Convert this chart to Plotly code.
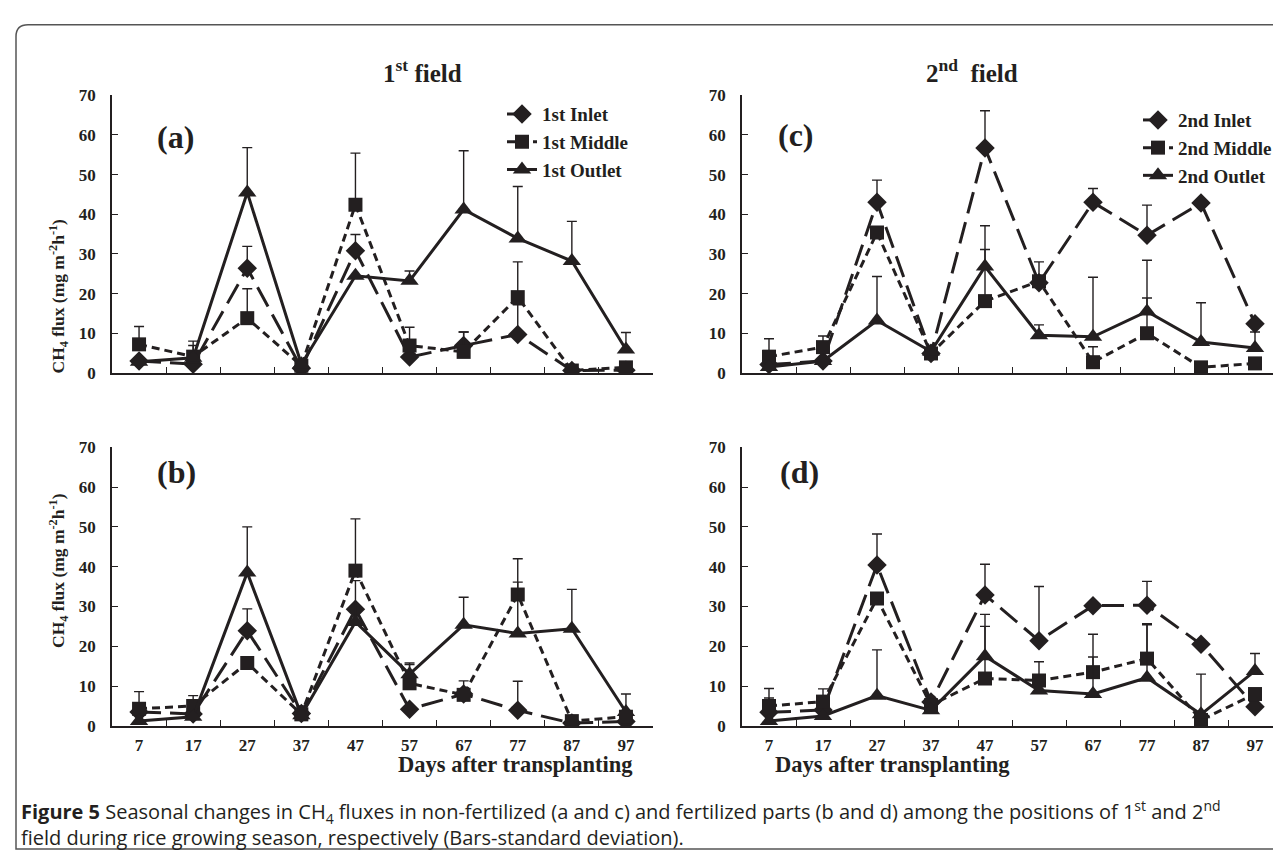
import plotly.graph_objects as go

W, H = 1281, 855

days = ["7", "17", "27", "37", "47", "57", "67", "77", "87", "97"]

# Panel (a): 1st field, non-fertilized  (values and top of SD bars)
a_inlet = [3.0, 2.2, 26.4, 1.2, 30.8, 4.0, 6.9, 9.7, 0.6, 0.7]
a_inlet_cap = [None, 6.9, 31.9, None, 34.9, None, 10.3, 17.2, None, None]
a_middle = [7.2, 4.1, 13.8, 1.8, 42.4, 6.9, 5.3, 19.1, 0.6, 1.4]
a_middle_cap = [11.7, 8.0, 21.2, None, 55.4, 11.5, 10.3, 28.0, None, None]
a_outlet = [2.8, 3.8, 45.5, 2.2, 24.5, 23.2, 41.2, 33.9, 28.2, 5.9]
a_outlet_cap = [None, None, 56.8, None, None, 25.7, 56.0, 47.0, 38.2, 10.2]

# Panel (b): 1st field, fertilized
b_inlet = [3.5, 3.0, 23.9, 3.1, 29.3, 4.2, 8.0, 3.9, 0.7, 1.1]
b_inlet_cap = [None, None, 29.4, None, None, None, None, 11.2, None, None]
b_middle = [4.3, 5.0, 15.8, 2.9, 39.0, 10.7, 7.8, 33.0, 1.2, 2.3]
b_middle_cap = [8.6, 7.6, None, 5.0, 52.0, 15.8, 11.3, 42.0, None, None]
b_outlet = [1.2, 2.3, 38.5, 2.7, 26.1, 13.0, 25.4, 23.2, 24.4, 3.5]
b_outlet_cap = [None, None, 50.0, None, 36.5, 15.4, 32.3, 36.1, 34.3, 8.0]

# Panel (c): 2nd field, non-fertilized
c_inlet = [2.1, 3.0, 43.0, 4.9, 56.7, 22.7, 43.0, 34.7, 42.8, 12.4]
c_inlet_cap = [None, None, 48.6, None, 66.1, None, 46.5, 42.3, None, None]
c_middle = [4.1, 6.5, 35.4, 4.9, 18.1, 23.1, 2.7, 10.0, 1.4, 2.4]
c_middle_cap = [8.6, 9.3, None, None, 31.1, 28.0, 6.6, 18.9, None, None]
c_outlet = [1.5, 3.0, 13.2, 5.4, 26.8, 9.5, 9.1, 15.5, 7.8, 6.3]
c_outlet_cap = [None, None, 24.3, None, 37.1, 12.1, 24.1, 28.4, 17.7, 10.3]

# Panel (d): 2nd field, fertilized
d_inlet = [3.4, 4.0, 40.4, 6.0, 32.9, 21.4, 30.2, 30.3, 20.5, 4.8]
d_inlet_cap = [7.0, None, 48.2, None, 40.6, 35.0, None, 36.3, None, None]
d_middle = [5.0, 6.1, 32.0, 5.2, 11.9, 11.4, 13.5, 16.9, 1.5, 8.0]
d_middle_cap = [9.4, 9.3, None, None, 25.0, 16.1, 23.0, 25.7, None, None]
d_outlet = [1.2, 2.5, 7.6, 3.9, 17.5, 8.9, 8.0, 12.1, 2.9, 13.8]
d_outlet_cap = [None, None, 19.1, None, 28.0, None, 17.3, 25.4, 13.0, 18.2]

y_ticks = [0, 10, 20, 30, 40, 50, 60, 70]

INK = "#231f20"
SERIF = "Liberation Serif"


def px_x(x):
    return x / W


def px_y(y):
    return 1 - y / H


styles = {
    "Inlet": dict(dash="22px,9px", symbol="diamond", size=15, width=3),
    "Middle": dict(dash="8px,5px", symbol="square", size=14, width=3),
    "Outlet": dict(dash="solid", symbol="triangle-up", size=16, width=3),
}

fig = go.Figure()

panels = [
    ("", "1st", [(a_inlet, a_inlet_cap, "Inlet"), (a_middle, a_middle_cap, "Middle"), (a_outlet, a_outlet_cap, "Outlet")], "legend", True),
    ("2", "2nd", [(c_inlet, c_inlet_cap, "Inlet"), (c_middle, c_middle_cap, "Middle"), (c_outlet, c_outlet_cap, "Outlet")], "legend2", True),
    ("3", "1st", [(b_inlet, b_inlet_cap, "Inlet"), (b_middle, b_middle_cap, "Middle"), (b_outlet, b_outlet_cap, "Outlet")], "legend", False),
    ("4", "2nd", [(d_inlet, d_inlet_cap, "Inlet"), (d_middle, d_middle_cap, "Middle"), (d_outlet, d_outlet_cap, "Outlet")], "legend2", False),
]

for suf, pre, series, leg, show in panels:
    for vals, caps, kind in series:
        st = styles[kind]
        err = [None if c is None else round(c - v, 2) for v, c in zip(vals, caps)]
        fig.add_trace(go.Scatter(
            x=days, y=vals, mode="lines+markers",
            name=f"{pre} {kind}",
            line=dict(color=INK, width=st["width"], dash=st["dash"]),
            marker=dict(symbol=st["symbol"], size=st["size"], color=INK),
            error_y=dict(type="data", array=err, symmetric=False,
                         arrayminus=[0] * len(vals), color=INK,
                         thickness=1.4, width=5),
            xaxis="x" + suf, yaxis="y" + suf,
            legend=leg, showlegend=show,
        ))

xdom_left = [px_x(104), px_x(645)]
xdom_right = [px_x(734), px_x(1274)]
ydom_top = [px_y(364), px_y(80)]
ydom_bot = [px_y(725), px_y(440)]

axis_font = dict(family=SERIF, size=17, color=INK, weight="bold")


def xaxis(dom, anchor, labels):
    return dict(domain=dom, anchor=anchor, type="category",
                categoryorder="array", categoryarray=days,
                range=[-0.5, 9.5], showline=True, linecolor=INK, linewidth=1.8,
                ticks="inside", ticklen=6, tickwidth=1.3, tickcolor=INK,
                tickson="boundaries", showgrid=False, zeroline=False,
                showticklabels=labels, tickfont=axis_font,
                ticklabelstandoff=3)


def yaxis(dom, anchor):
    return dict(domain=dom, anchor=anchor, range=[0, 70], tickvals=y_ticks,
                showline=True, linecolor=INK, linewidth=1.8,
                ticks="inside", ticklen=6, tickwidth=1.3, tickcolor=INK,
                showgrid=False, zeroline=False, tickfont=axis_font,
                ticklabelstandoff=11)


leg_font = dict(family=SERIF, size=19, color=INK, weight="bold")

fig.update_layout(
    width=W, height=H,
    margin=dict(l=0, r=0, t=0, b=0),
    paper_bgcolor="white", plot_bgcolor="white",
    xaxis=xaxis(xdom_left, "y", False), yaxis=yaxis(ydom_top, "x"),
    xaxis2=xaxis(xdom_right, "y2", False), yaxis2=yaxis(ydom_top, "x2"),
    xaxis3=xaxis(xdom_left, "y3", True), yaxis3=yaxis(ydom_bot, "x3"),
    xaxis4=xaxis(xdom_right, "y4", True), yaxis4=yaxis(ydom_bot, "x4"),
    legend=dict(x=px_x(494), y=px_y(80), xanchor="left", yanchor="top",
                bgcolor="rgba(0,0,0,0)", tracegroupgap=0, font=leg_font),
    legend2=dict(x=px_x(1130), y=px_y(86), xanchor="left", yanchor="top",
                 bgcolor="rgba(0,0,0,0)", tracegroupgap=0, font=leg_font),
    showlegend=True,
)

ann = []
title_font = dict(family=SERIF, size=25, color=INK, weight="bold")
ann.append(dict(text="1<sup>st</sup> field", x=px_x(373), y=px_y(37),
                xref="paper", yref="paper", showarrow=False, font=title_font))
ann.append(dict(text="2<sup>nd</sup>\u00a0 field", x=px_x(1012), y=px_y(37),
                xref="paper", yref="paper", showarrow=False, font=title_font))

lab_font = dict(family=SERIF, size=32, color=INK, weight="bold")
for t, x, y in [("(a)", 147, 102), ("(c)", 788, 100), ("(b)", 147, 465), ("(d)", 791, 465)]:
    ann.append(dict(text=t, x=px_x(x), y=px_y(y), xref="paper", yref="paper",
                    showarrow=False, font=lab_font))

ytitle = "CH<sub>4</sub> flux (mg m<sup>-2</sup>h<sup>-1</sup>)"
for y in [204, 566]:
    ann.append(dict(text=ytitle, x=px_x(36), y=px_y(y), xref="paper", yref="paper",
                    showarrow=False, textangle=-90,
                    font=dict(family=SERIF, size=17.5, color=INK, weight="bold")))

for x in [388, 1004]:
    ann.append(dict(text="Days after transplanting", x=px_x(x), y=px_y(779),
                    xref="paper", yref="paper", showarrow=False,
                    font=dict(family=SERIF, size=22.5, color=INK, weight="bold")))

caption = ("<b>Figure 5</b> Seasonal changes in CH<sub>4</sub> fluxes in non-fertilized (a and c) "
           "and fertilized parts (b and d) among the positions of 1<sup>st</sup> and 2<sup>nd</sup>"
           "<br>field during rice growing season, respectively (Bars-standard deviation).")
ann.append(dict(text=caption, x=px_x(11), y=px_y(795), xref="paper", yref="paper",
                xanchor="left", yanchor="top", align="left", showarrow=False,
                font=dict(family="Open Sans", size=20, color=INK)))

fig.update_layout(annotations=ann)

# rounded frame around the figure
x0, y0, x1, y1, r = px_x(8), px_y(851), px_x(1279), px_y(8), 12
path = (f"M {x0},{y0} L {x0},{px_y(8 + r)} Q {x0},{y1} {px_x(8 + r)},{y1} "
        f"L {x1},{y1} L {x1},{y0} Z")
fig.add_shape(type="path", path=path, xref="paper", yref="paper",
              line=dict(color="#555555", width=1.5), fillcolor="rgba(0,0,0,0)", layer="below")

fig.write_html("out.html")
